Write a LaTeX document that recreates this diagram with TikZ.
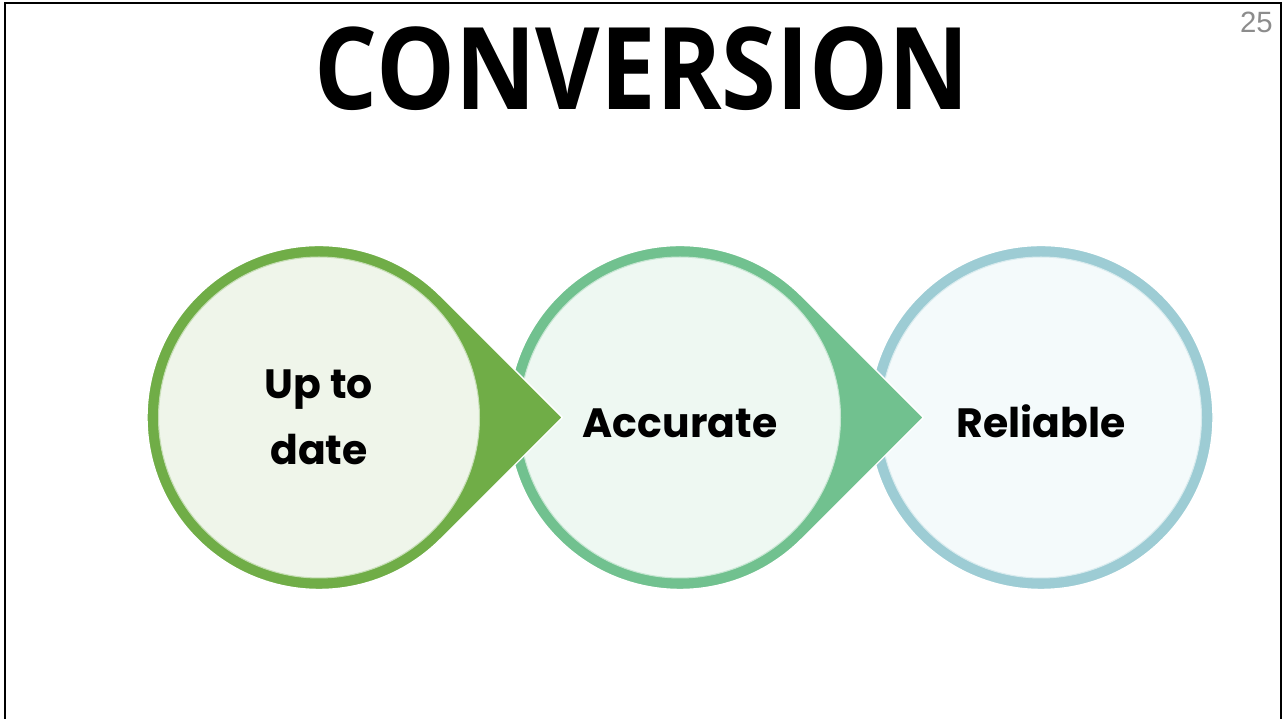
\documentclass[tikz,border=0pt]{standalone}
\usepackage{fontspec}
\setsansfont{Liberation Sans}
\newfontfamily\titlefont{Open Sans}
\newfontfamily\lblfont{Poppins}
\usetikzlibrary{calc,positioning}
\definecolor{ringA}{HTML}{70AD47}
\definecolor{ringB}{HTML}{71C18F}
\definecolor{ringC}{HTML}{9DCCD4}
\definecolor{fillA}{HTML}{EFF5EA}
\definecolor{fillB}{HTML}{EEF8F2}
\definecolor{fillC}{HTML}{F4FAFB}
\tikzset{
  bubble/.style={circle,minimum size=6.42cm,inner sep=0pt,align=center,
    line width=0.6pt,font=\lblfont\bfseries\fontsize{23.3}{37.6}\selectfont},
  oneline/.style={text height=0.82cm,text depth=0pt},
  drop/.style={draw=white,line width=0.8pt},
  frame/.style={line width=1.3pt},
  every node/.style={text=black}
}

\begin{document}
\begin{tikzpicture}[x=0.02cm,y=0.02cm]
  \useasboundingbox (0,0) rectangle (1284,719);
  \def\R{172}
  % slide frame
  \draw[frame] (5,0) -- (5,716) -- (1281,716) -- (1281,0);
  \node[font=\titlefont\bfseries\fontsize{65}{65}\selectfont,xscale=0.87] (title) at (642,650) {CONVERSION};
  \node[anchor=north east,inner sep=0pt,text=black!45,font=\sffamily\fontsize{16.7}{20}\selectfont] (page) at (1273,707) {25};
  % last circle, no tip
  \fill[ringC,drop] (1041,301.5) circle (\R);
  \node[bubble,oneline,fill=fillC,draw=ringC!40!white] (rel) at (1041,301.5) {Reliable};
  % circles with tips, drawn back to front
  \foreach \X/\Ring/\Fill/\N/\O/\T in {680/ringB/fillB/acc/oneline/{Accurate},319/ringA/fillA/up/{}/{Up to\\date}}{
    \fill[\Ring,drop] (\X+1.41421*\R,301.5) -- ($(\X,301.5)+(45:\R)$)
      arc[start angle=45,end angle=315,radius=\R] -- cycle;
    \node[bubble,\O,fill=\Fill,draw=\Ring!40!white] (\N) at (\X,301.5) {\T};
  }
\end{tikzpicture}
\end{document}
